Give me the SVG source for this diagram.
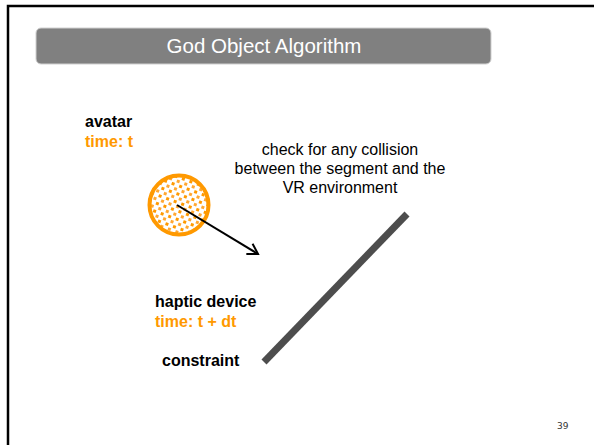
<svg xmlns="http://www.w3.org/2000/svg" width="594" height="445" viewBox="0 0 594 445">
<style>
.b{font-family:"Liberation Sans",Arial,sans-serif;font-weight:bold;font-size:16px;fill:#000}
.o{fill:#FF9900}
.n{font-family:"Liberation Sans",Arial,sans-serif;font-size:16px;fill:#000;text-anchor:middle}
</style>
<defs>
<pattern id="dots" width="8" height="8" patternUnits="userSpaceOnUse" patternTransform="rotate(20)">
<rect x="0" y="0" width="3" height="3" fill="#FF9900"/>
<rect x="4" y="4" width="3" height="3" fill="#FFA733"/>
</pattern>
<marker id="ah" markerWidth="14" markerHeight="14" refX="11" refY="7" orient="auto" markerUnits="userSpaceOnUse">
<path d="M1,1 L11,7 L1,13" fill="none" stroke="#000" stroke-width="2"/>
</marker>
</defs>
<rect width="594" height="445" fill="#fff"/>
<path d="M8,445 V6 H594" fill="none" stroke="#000" stroke-width="2.5"/>
<g id="title">
<rect x="36" y="28" width="455" height="36" rx="5" fill="#808080" stroke="#d0d0d0" stroke-width="1"/>
<text x="264" y="53" font-family="'Liberation Sans',Arial,sans-serif" font-size="20.5" fill="#fff" text-anchor="middle">God Object Algorithm</text>
</g>
<g id="avatar-label">
<text class="b" x="85" y="127">avatar</text>
<text class="b o" x="85" y="147">time: t</text>
</g>
<g id="avatar">
<circle cx="179" cy="205" r="29.5" fill="#fff"/>
<circle cx="179" cy="205" r="29.5" fill="url(#dots)" stroke="#FF9900" stroke-width="4"/>
</g>
<g id="check-label">
<text class="n" x="340" y="155">check for any collision</text>
<text class="n" x="340" y="174">between the segment and the</text>
<text class="n" x="340" y="193">VR environment</text>
</g>
<g id="haptic-label">
<text class="b" x="155" y="307">haptic device</text>
<text class="b o" x="155" y="327">time: t + dt</text>
</g>
<g id="constraint">
<line x1="264" y1="362" x2="407" y2="214" stroke="#4D4D4D" stroke-width="7"/>
<text class="b" x="162" y="366">constraint</text>
</g>
<g id="connectors">
<line x1="177" y1="205" x2="258" y2="254" stroke="#000" stroke-width="2" marker-end="url(#ah)"/>
</g>
<text x="557" y="429" font-family="'DejaVu Sans',sans-serif" font-size="9" fill="#333">39</text>
</svg>
